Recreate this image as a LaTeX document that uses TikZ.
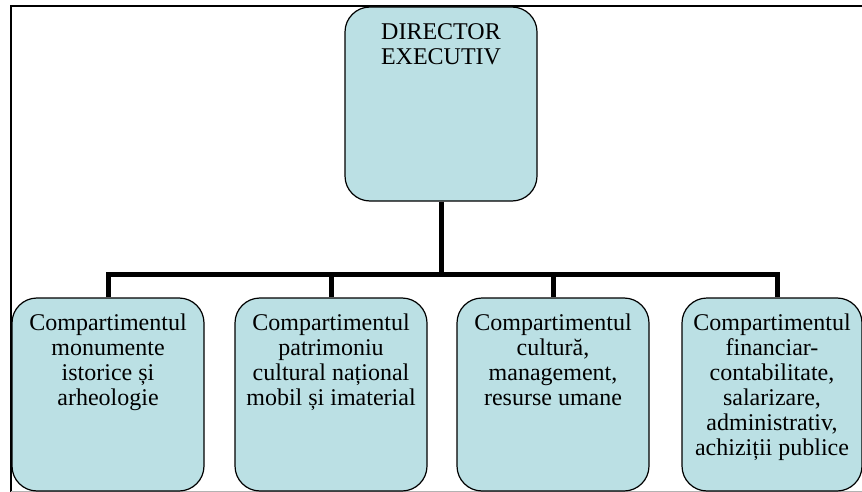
\documentclass[tikz,border=0pt]{standalone}
\usepackage{fontspec}
\setmainfont{Liberation Serif}
\usetikzlibrary{positioning}

\definecolor{boxfill}{RGB}{187,224,228}

% text of a box, set at its top
\newcommand{\unitbox}[3]{\parbox[t][#2][t]{#1}{\centering\vspace*{15pt}\strut #3}}

\begin{document}
\begin{tikzpicture}[x=1pt, y=-1pt,
    unit/.style={draw, line width=1.2pt, fill=boxfill, rounded corners=25pt,
        inner sep=0pt, font=\fontsize{24}{25}\selectfont},
    link/.style={line width=5pt}]
    \useasboundingbox (0,0) rectangle (862,492);

    % page frame
    \draw[line width=1.5pt] (11,492) -- (11,6) -- (862,6);
    \draw[gray!60, line width=1pt] (11,491) -- (862,491);

    % director
    \node[unit] (dir) at (441,104) {\unitbox{192pt}{194pt}{DIRECTOR\\EXECUTIV}};

    % compartments
    \node[unit] (c1) at (108,394.5) {\unitbox{192pt}{193pt}{Compartimentul\\monumente\\istorice și\\arheologie}};
    \node[unit] (c2) at (331,394.5) {\unitbox{192pt}{193pt}{Compartimentul\\patrimoniu\\cultural național\\mobil și imaterial}};
    \node[unit] (c3) at (553,394.5) {\unitbox{192pt}{193pt}{Compartimentul\\cultură,\\management,\\resurse umane}};
    \node[unit] (c4) at (772,394.5) {\unitbox{180pt}{193pt}{Compartimentul\\financiar-\\contabilitate,\\salarizare,\\administrativ,\\achiziții publice}};

    % tree lines
    \coordinate (bar) at (0,274.5);
    \coordinate (c4top) at ([xshift=5pt]c4.north);
    \draw[link] (dir.south) -- (dir.south |- bar);
    \draw[link] (c1.north) -- (c1.north |- bar) -- (c4top |- bar) -- (c4top);
    \draw[link] (c2.north) -- (c2.north |- bar);
    \draw[link] (c3.north) -- (c3.north |- bar);
\end{tikzpicture}
\end{document}
